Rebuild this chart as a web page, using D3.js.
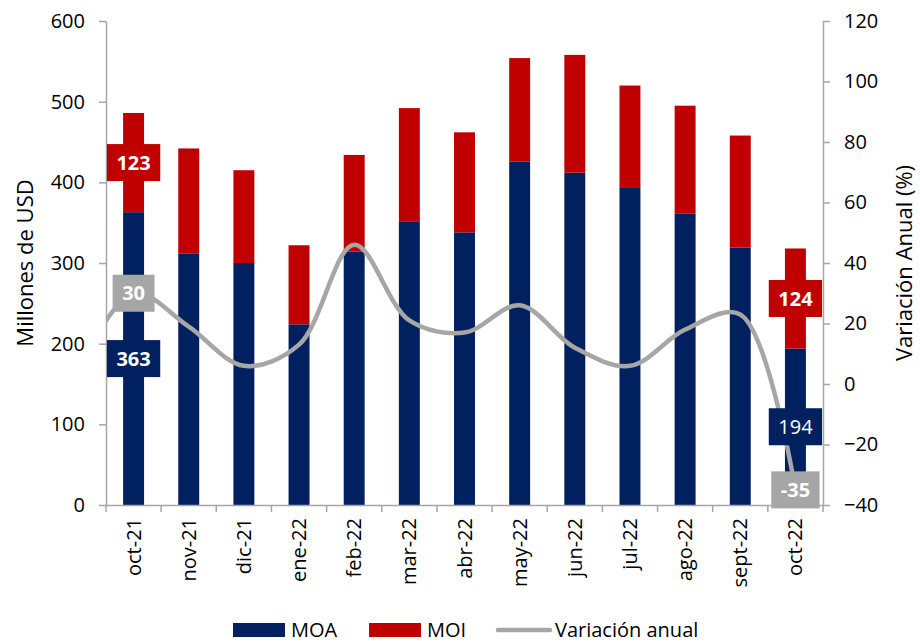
<!DOCTYPE html>
<html>
<head>
<meta charset="utf-8">
<script src="https://cdn.jsdelivr.net/npm/d3@7"></script>
<style>
    body { margin: 0; background: #fff; }
    svg { display: block; font-family: "Open Sans", sans-serif; }
</style>
</head>
<body>
<div id="chart"></div>
<script>
"use strict";

const months = ["oct-21", "nov-21", "dic-21", "ene-22", "feb-22", "mar-22", "abr-22",
    "may-22", "jun-22", "jul-22", "ago-22", "sept-22", "oct-22"];
const moa = [363, 312, 300, 224, 314, 351, 338, 426, 412, 394, 361, 319, 194];
const moi = [123, 130, 115, 98, 120, 141, 124, 128, 146, 126, 134, 139, 124];
const variacion = [30, 19, 6, 13, 46, 21, 17, 26, 12, 6, 18, 23, -35];
// sep-21, only its tail shows at the left edge of the plot
const variacionPrev = 5;
const leftTicks = [0, 100, 200, 300, 400, 500, 600];
const rightTicks = [-40, -20, 0, 20, 40, 60, 80, 100, 120];
const legendItems = ["MOA", "MOI", "Variación anual"];

const colors = {moa: "#002060", moi: "#C00000", line: "#A6A6A6", axis: "#A6A6A6"};

const width = 920, height = 644;
const plot = {left: 106, right: 823, top: 21, bottom: 505};

const svg = d3.select("#chart").append("svg")
    .attr("width", width)
    .attr("height", height);

const x = d3.scaleBand()
    .domain(months)
    .range([plot.left, plot.right])
    .paddingInner(0.62)
    .paddingOuter(0.31);

const yLeft = d3.scaleLinear().domain([0, 600]).range([plot.bottom, plot.top]);
const yRight = d3.scaleLinear().domain([-40, 120]).range([plot.bottom, plot.top]);

const rows = months.map((m, i) => ({month: m, moa: moa[i], moi: moi[i], v: variacion[i]}));
const cx = m => x(m) + x.bandwidth() / 2;

// stacked bars
const stack = d3.stack().keys(["moa", "moi"])(rows);
svg.append("g").selectAll("g")
    .data(stack)
    .join("g")
    .attr("fill", d => colors[d.key])
    .selectAll("rect")
    .data(d => d)
    .join("rect")
    .attr("x", d => x(d.data.month))
    .attr("width", x.bandwidth())
    .attr("y", d => yLeft(d[1]))
    .attr("height", d => yLeft(d[0]) - yLeft(d[1]));

// axes
function styleAxis(g) {
    g.select(".domain").attr("stroke", colors.axis).attr("stroke-width", 1.5);
    g.selectAll(".tick line").attr("stroke", colors.axis).attr("stroke-width", 1.5);
    g.selectAll(".tick text").attr("fill", "#000").style("font-size", "20px")
        .style("font-family", "'Open Sans', sans-serif");
}

svg.append("g")
    .attr("transform", `translate(${plot.left},0)`)
    .call(d3.axisLeft(yLeft).tickValues(leftTicks).tickSize(7).tickPadding(14).tickSizeOuter(0))
    .call(styleAxis);

svg.append("g")
    .attr("transform", `translate(${plot.right},0)`)
    .call(d3.axisRight(yRight).tickValues(rightTicks).tickSize(7).tickPadding(14).tickSizeOuter(0))
    .call(styleAxis);

const xAxis = svg.append("g")
    .attr("transform", `translate(0,${plot.bottom})`)
    .call(d3.axisBottom(x).tickSize(0).tickSizeOuter(0))
    .call(styleAxis);
xAxis.selectAll(".tick text")
    .attr("transform", "rotate(-90)")
    .attr("x", -13)
    .attr("y", 0)
    .attr("dy", "0.35em")
    .attr("text-anchor", "end");

// tick marks sit between the categories
const step = x.step();
xAxis.selectAll(".sep")
    .data(d3.range(months.length + 1))
    .join("line")
    .attr("class", "sep")
    .attr("x1", i => plot.left + i * step)
    .attr("x2", i => plot.left + i * step)
    .attr("y1", 0)
    .attr("y2", 7)
    .attr("stroke", colors.axis)
    .attr("stroke-width", 1.5);

// axis titles
svg.append("text")
    .attr("transform", `translate(25,${(plot.top + plot.bottom) / 2}) rotate(-90)`)
    .attr("text-anchor", "middle")
    .attr("dy", "0.35em")
    .style("font-size", "22px")
    .text("Millones de USD");

svg.append("text")
    .attr("transform", `translate(904,${(plot.top + plot.bottom) / 2}) rotate(-90)`)
    .attr("text-anchor", "middle")
    .attr("dy", "0.35em")
    .style("font-size", "22px")
    .text("Variación Anual (%)");

// variation line, smoothed, clipped to the plot area
svg.append("clipPath").attr("id", "plot-clip")
    .append("rect")
    .attr("x", plot.left)
    .attr("y", plot.top)
    .attr("width", plot.right - plot.left)
    .attr("height", plot.bottom - plot.top);

const linePts = [[cx(months[0]) - step, yRight(variacionPrev)]]
    .concat(rows.map(d => [cx(d.month), yRight(d.v)]));

svg.append("path")
    .attr("clip-path", "url(#plot-clip)")
    .attr("d", d3.line().curve(d3.curveCatmullRom.alpha(0.5))(linePts))
    .attr("fill", "none")
    .attr("stroke", colors.line)
    .attr("stroke-width", 4.5)
    .attr("stroke-linejoin", "round");

// data labels only on first and last month
function addLabel(px, py, text, fill, bold) {
    const g = svg.append("g").attr("transform", `translate(${px},${py})`);
    const t = g.append("text")
        .attr("text-anchor", "middle")
        .attr("dy", "0.36em")
        .attr("fill", "#fff")
        .style("font-size", "20px")
        .style("font-weight", bold ? 700 : 400)
        .text(text);
    const w = t.node().getComputedTextLength() + 19;
    g.insert("rect", "text")
        .attr("x", -w / 2)
        .attr("y", -18.5)
        .attr("width", w)
        .attr("height", 37)
        .attr("fill", fill);
}

[0, months.length - 1].forEach(i => {
    const d = rows[i];
    const c = cx(d.month);
    addLabel(c, (yLeft(0) + yLeft(d.moa)) / 2, d.moa, colors.moa, i === 0);
    addLabel(c, (yLeft(d.moa) + yLeft(d.moa + d.moi)) / 2, d.moi, colors.moi, true);
    addLabel(c, yRight(d.v), d.v, colors.line, true);
});

// legend
const legendX = [233, 369, 496];
const legend = svg.append("g").attr("transform", "translate(0,630)");
legendItems.forEach((name, i) => {
    const g = legend.append("g").attr("transform", `translate(${legendX[i]},0)`);
    if (i < 2) {
        g.append("rect")
            .attr("x", 0).attr("y", -7)
            .attr("width", 52).attr("height", 14)
            .attr("fill", i === 0 ? colors.moa : colors.moi);
    } else {
        g.append("line")
            .attr("x1", 2).attr("x2", 54)
            .attr("stroke", colors.line)
            .attr("stroke-width", 4.5)
            .attr("stroke-linecap", "round");
    }
    g.append("text")
        .attr("x", i < 2 ? 58 : 59)
        .attr("dy", "0.34em")
        .style("font-size", "20px")
        .text(name);
});
</script>
</body>
</html>
